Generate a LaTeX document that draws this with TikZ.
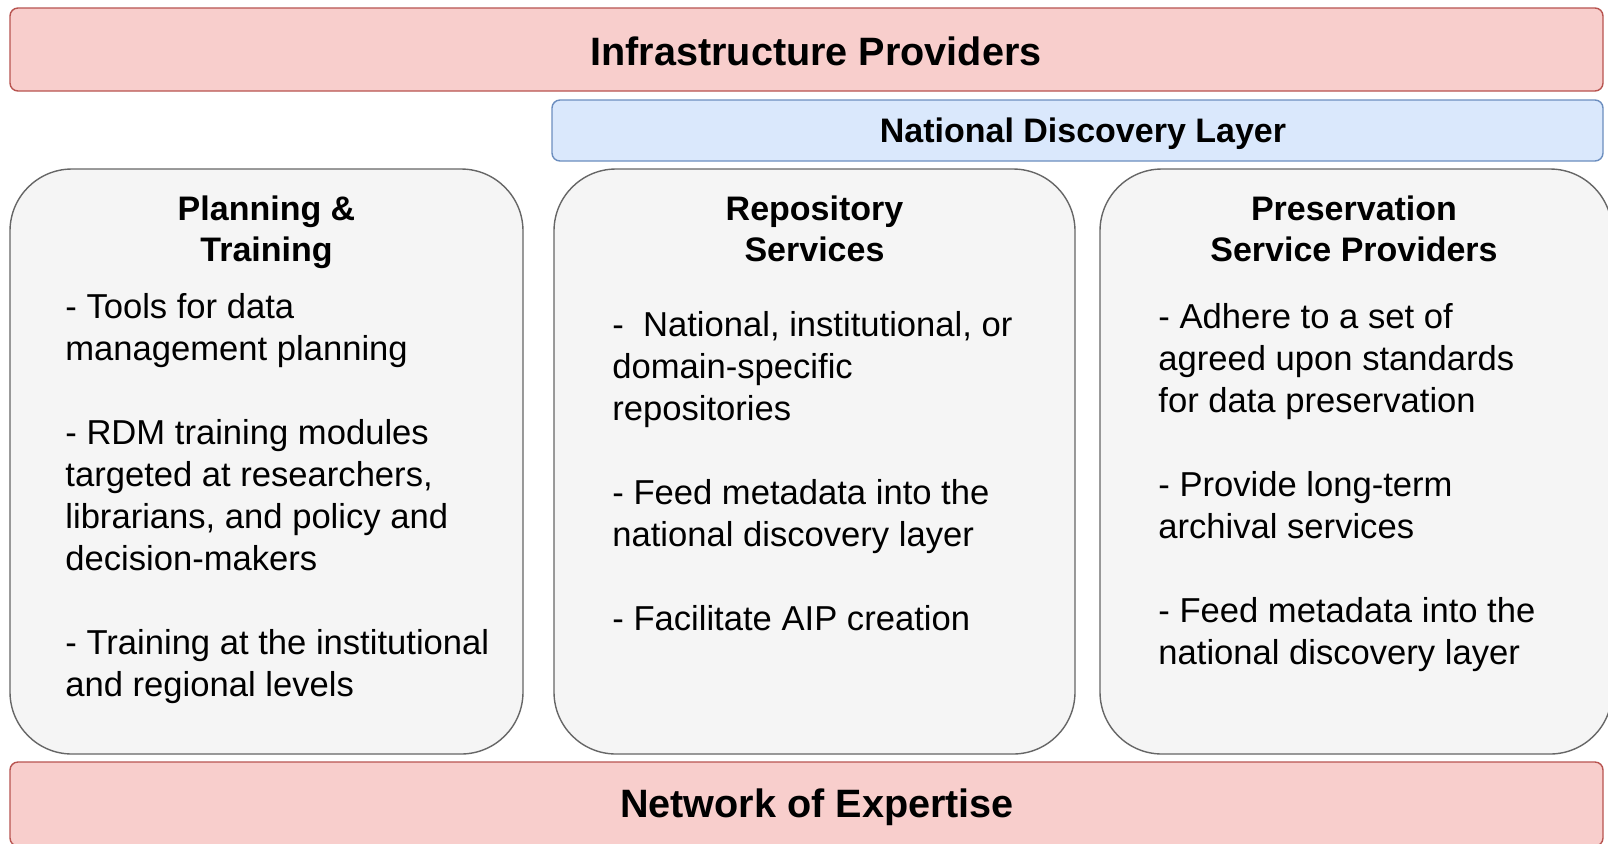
\documentclass[tikz,border=0pt]{standalone}
\usepackage{fontspec}
\setmainfont{Liberation Sans}
\usepackage{xcolor}
\usetikzlibrary{positioning, fit}

\definecolor{redfill}{HTML}{F8CECC}
\definecolor{reddraw}{HTML}{B85450}
\definecolor{bluefill}{HTML}{DAE8FC}
\definecolor{bluedraw}{HTML}{6C8EBF}
\definecolor{grayfill}{HTML}{F5F5F5}
\definecolor{graydraw}{HTML}{666666}

\tikzset{
  layer/.style={draw=reddraw, fill=redfill, rounded corners=4pt, line width=0.7pt, inner sep=0pt},
  discovery/.style={draw=bluedraw, fill=bluefill, rounded corners=4pt, line width=0.7pt, inner sep=0pt},
  layertext/.style={inner sep=0pt, anchor=base, font=\fontsize{19.8}{24}\selectfont\bfseries},
  discoverytext/.style={inner sep=0pt, anchor=base, font=\fontsize{17}{20.5}\selectfont\bfseries},
  pillar/.style={draw=graydraw, fill=grayfill, rounded corners=31pt, line width=0.7pt, inner sep=0pt},
  pillartitle/.style={inner sep=0pt, align=center, font=\fontsize{17}{20.5}\selectfont\bfseries},
  pillarbody/.style={inner sep=0pt, align=left, anchor=north west, font=\fontsize{17.3}{21}\selectfont}
}

\begin{document}
\begin{tikzpicture}[x=0.5pt, y=-0.5pt]
  \useasboundingbox[fill=white] (0,0) rectangle (1608,843);

  % layers
  \node[layer, fit={(10,8) (1603,91)}] (infra) {};
  \node[discovery, fit={(552,100) (1603,161)}] (ndl) {};
  \node[layer, fit={(10,762) (1603,846)}] (network) {};
  \node[layertext] (infratext) at (816,65) {Infrastructure Providers};
  \node[discoverytext] (ndltext) at (1083,142) {National Discovery Layer};
  \node[layertext] (networktext) at (817,817) {Network of Expertise};

  % pillars
  \node[pillar, fit={(10,169) (523,754)}] (plan) {};
  \node[pillar, fit={(554,169) (1075,754)}] (repo) {};
  \node[pillar, fit={(1100,169) (1612,754)}] (pres) {};

  \node[pillartitle, below=13.5pt of plan.north] (plantitle) {Planning \&\\Training};
  \node[pillartitle, below=13.5pt of repo.north] (repotitle) {Repository\\Services};
  \node[pillartitle, below=13.5pt of pres.north, xshift=-1pt] (prestitle) {Preservation\\Service Providers};

  \node[pillarbody] (planbody) at (65,293) {- Tools for data\\management planning\\[21pt]
    - RDM training modules\\targeted at researchers,\\librarians, and policy and\\decision-makers\\[21pt]
    - Training at the institutional\\and regional levels};
  \node[pillarbody] (repobody) at (612,311) {-\ \ National, institutional, or\\domain-specific\\repositories\\[21pt]
    - Feed metadata into the\\national discovery layer\\[21pt]
    - Facilitate AIP creation};
  \node[pillarbody] (presbody) at (1158,303) {- Adhere to a set of\\agreed upon standards\\for data preservation\\[21pt]
    - Provide long-term\\archival services\\[21pt]
    - Feed metadata into the\\national discovery layer};
\end{tikzpicture}
\end{document}
